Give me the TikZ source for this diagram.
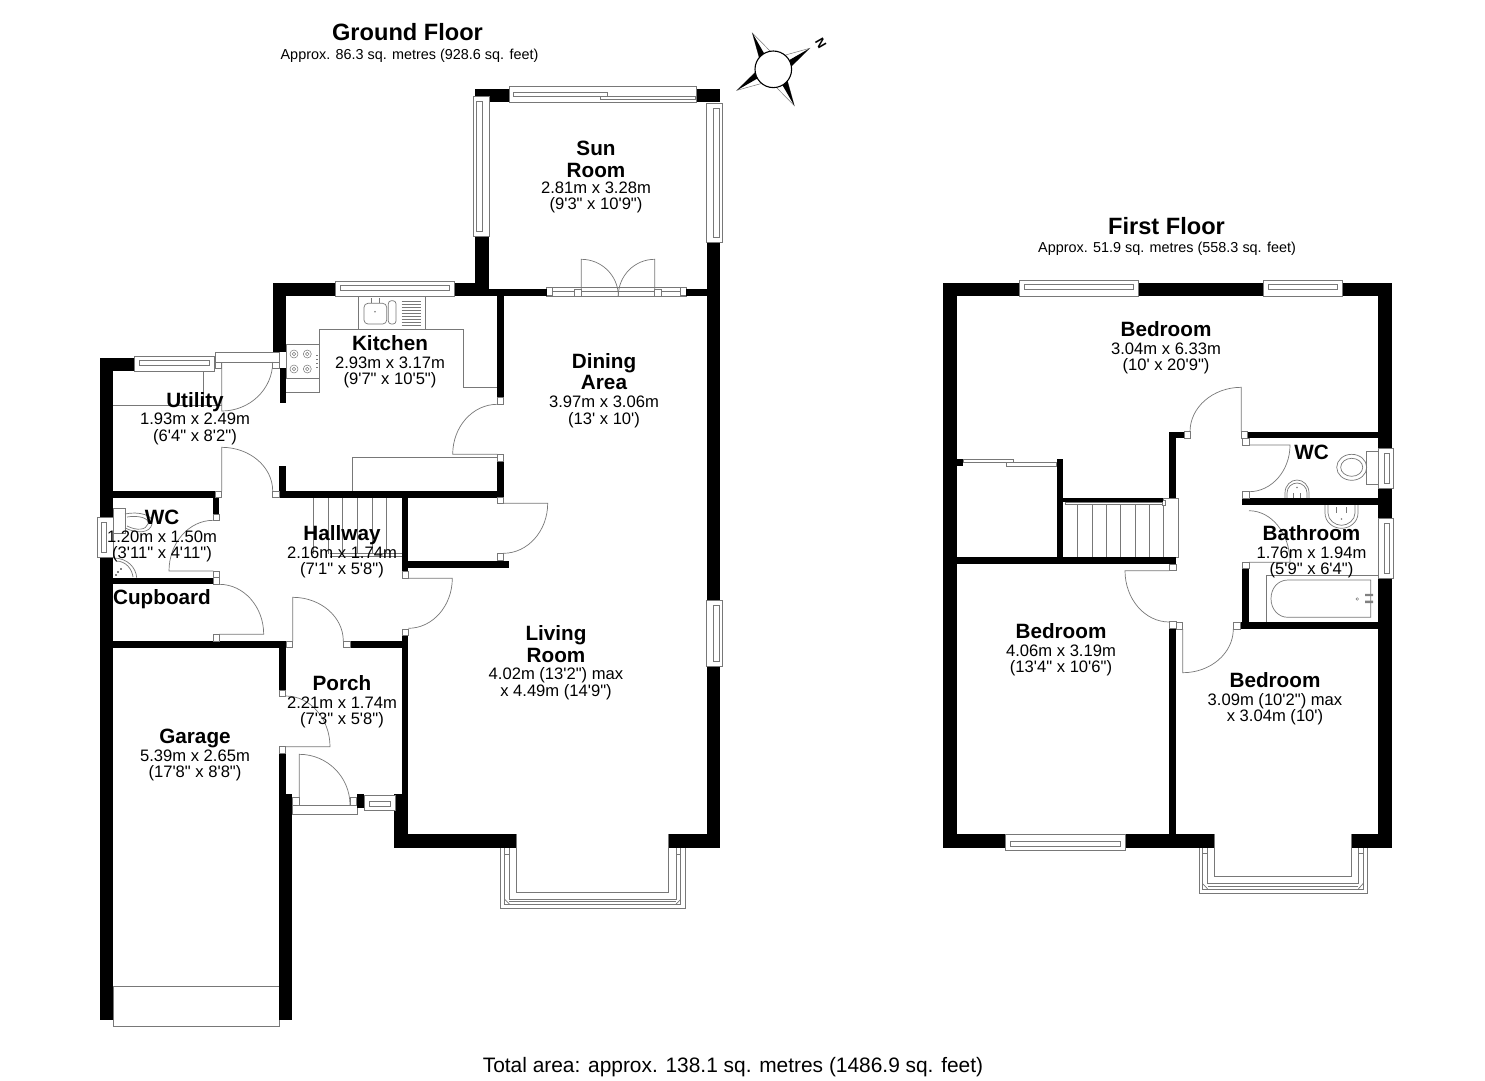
\documentclass[tikz,border=0pt]{standalone}
\usepackage{fontspec}
\newfontfamily\lsans{Liberation Sans}
\definecolor{planline}{HTML}{787878}
\tikzset{
  plan/.style={draw=planline,line width=0.7pt},
  planw/.style={draw=planline,line width=0.7pt,fill=white},
  wallfill/.style={fill=black},
  roomlabel/.style={font=\lsans\fontsize{16.6}{16.7}\selectfont,align=center,inner sep=0pt,text=black},
  titlelabel/.style={font=\lsans\bfseries\fontsize{23.6}{26}\selectfont,inner sep=0pt,text=black},
  sublabel/.style={font=\lsans\fontsize{14.4}{16}\selectfont,inner sep=0pt,text=black},
  totallabel/.style={font=\lsans\fontsize{20.9}{22}\selectfont,inner sep=0pt,text=black}
}
\newcommand{\wl}[4]{\fill[wallfill] (#1,#2) rectangle (#3,#4);}
\newcommand{\jb}[4]{\draw[planw] (#1,#2) rectangle (#3,#4);}
\newcommand{\pln}[4]{\draw[plan] (#1,#2) -- (#3,#4);}
% door: hinge, open leaf end, arc end
\newcommand{\door}[6]{%
  \pgfmathsetmacro\cax{#3+0.5523*(#5-#1)}\pgfmathsetmacro\cay{#4+0.5523*(#6-#2)}%
  \pgfmathsetmacro\cbx{#5+0.5523*(#3-#1)}\pgfmathsetmacro\cby{#6+0.5523*(#4-#2)}%
  \draw[plan] (#1,#2) -- (#3,#4) .. controls (\cax,\cay) and (\cbx,\cby) .. (#5,#6);}
% horizontal window: x1 x2 ytop ybot ; inner band y1 y2
\newcommand{\hwin}[6]{\draw[planw] (#1,#3) rectangle (#2,#4);
  \draw[plan] (#1+5,#5) rectangle (#2-5,#6);}
\newcommand{\vwin}[6]{\draw[planw] (#3,#1) rectangle (#4,#2);
  \draw[plan] (#5,#1+5) rectangle (#6,#2-5);}
\newcommand{\nm}[1]{{\bfseries\fontsize{20.7}{21}\selectfont #1}}
\newcommand{\dm}[1]{{\fontsize{16.6}{16.7}\selectfont #1}}
\newcommand{\needle}[2]{%
  \begin{scope}[rotate=#1]
    \draw[planline,line width=0.5pt,fill=white] (42,0) -- (16.8,6.5) -- (16.8,-6.5) -- cycle;
    \fill[black] (42,0) -- (16.8,#2*6.5) -- (18,0) -- cycle;
  \end{scope}}
\begin{document}
\begin{tikzpicture}[x=1pt,y=-1pt]
\useasboundingbox (0,0) rectangle (1485,1080);
\fill[white] (0,0) rectangle (1485,1080);

%%% GROUND FLOOR fixtures
% kitchen
\draw[plan] (358.7,296) -- (358.7,329.3) (425.3,296) -- (425.3,329.3);
\draw[plan] (319.3,392.7) -- (319.3,329.3) -- (463.3,329.3) -- (463.3,387.7) -- (497.3,387.7);
\draw[plan] (286,392.7) -- (319.3,392.7);
\draw[plan] (286,344.3) rectangle (319.3,378.3);
\foreach \cx/\cy in {294/354,307.3/354,294/369,307.3/369}{
  \draw[plan,line width=0.5pt] (\cx,\cy) circle (4);
  \draw[plan,line width=0.5pt] (\cx,\cy) circle (1.8);}
\foreach \cy in {355,359,363,367}{\draw[plan,line width=0.5pt] (316,\cy) -- (318,\cy);}
\draw[plan,rounded corners=4pt] (364,303.3) rectangle (386.7,324);
\draw[plan,rounded corners=3pt] (388.3,300.7) rectangle (396,324);
\foreach \cy in {301.7,304.6,...,326}{\draw[plan,line width=0.5pt] (401.7,\cy) -- (420.7,\cy);}
\draw[plan,line width=0.6pt] (371.7,298) -- (371.7,303) (379.3,298) -- (379.3,303);
\fill[planline] (375,311.7) circle (0.8);
% utility units
\pln{113.3}{405}{221.7}{405}
\pln{203.3}{371}{203.3}{405}
% hall cupboard
\draw[plan] (352.3,491) -- (352.3,457.3) -- (497.3,457.3);
% ground stairs
\foreach \sx in {313.3,328,342.7,357.3,372.3,386.7}{\pln{\sx}{497.7}{\sx}{554.3}}
\draw[plan] (330,553) -- (402,553) (330,556) -- (402,556);
% WC
\draw[plan] (113.3,508.7) rectangle (125,533.3);
\draw[plan] (125,514) .. controls (138,511) and (155,515) .. (152,524) .. controls (150,533) and (138,534) .. (125,528);
\draw[plan] (127,517) .. controls (138,515) and (150,518) .. (148,524) .. controls (146,530) and (137,531) .. (127,526);
\draw[plan] (113.3,558) .. controls (128,558) and (136,568) .. (136.7,577.7);
\draw[plan] (116,561) .. controls (126,561) and (132,569) .. (133,577);
\fill[black] (118,572) circle (0.9) (121,569) circle (0.9) (116,575) circle (0.9);
% garage door
\draw[plan] (113.3,986.7) rectangle (279,1026.7);
% living bay
\draw[plan] (500.3,847.7) -- (500.3,908) -- (685,908) -- (685,847.7);
\draw[plan] (516,834.3) -- (516,892.7) -- (668.7,892.7) -- (668.7,834.3);
\draw[plan] (504.7,847.7) -- (504.7,904) -- (680.7,904) -- (680.7,847.7);
\draw[plan] (509.3,847.7) -- (509.3,899.3) -- (676,899.3) -- (676,847.7);
\draw[plan] (504.7,854) -- (509.3,854) (676,854) -- (680.7,854);
\draw[plan] (504.7,899.3) -- (509.3,904) (676,904) -- (680.7,899.3);
\draw[plan] (509.3,901.7) -- (676,901.7);

% sun room double door frame
\draw[planw] (546.7,287.3) rectangle (686,296);
\draw[plan] (546.7,291) -- (574.7,291) (661.3,291) -- (686,291) (581.3,291.5) -- (654.7,291.5);
\jb{546.7}{287.3}{552.7}{295}\jb{680.7}{287.3}{686}{295}
% door frames
\jb{215}{352}{279}{362}
\jb{292.7}{805}{357.3}{814}

%%% GROUND FLOOR walls
\wl{100}{358}{113.3}{517.3}
\wl{100}{557.7}{113.3}{1020}
\wl{100}{358}{134}{371}
\wl{273}{283}{286}{352}
\wl{279.5}{368}{286}{403}
\wl{273}{283}{335}{296}
\wl{454}{283}{476}{296}
\wl{475.3}{236}{488.7}{296}
\wl{475.3}{89}{488.7}{96.7}
\wl{488.7}{89}{509.3}{102.3}
\wl{696}{89}{720}{102.3}
\wl{706.7}{242.7}{720}{600}
\wl{706.7}{666.7}{720}{847.7}
\wl{488}{289.3}{546.7}{296}
\wl{686}{289.3}{707}{296}
\wl{497}{296}{503.5}{397}
\wl{497}{461}{503.5}{497.7}
\wl{279}{491}{503.5}{497.7}
\wl{279}{465.7}{285.7}{491}
\wl{113}{491}{215}{497.7}
\wl{213.3}{497.7}{219.3}{514.3}
\wl{113}{577.7}{213}{584.3}
\wl{113}{641}{285.7}{647.7}
\wl{279}{647.7}{285.7}{690}
\wl{279}{753.3}{285.7}{794.3}
\wl{279}{794.3}{292.3}{1020}
\wl{350}{641}{408.3}{647.7}
\wl{402}{497.7}{408.3}{571.7}
\wl{402}{561}{509}{567.5}
\wl{402}{635.7}{408.3}{795}
\wl{394.3}{794.3}{408}{847.7}
\wl{394.3}{834.3}{516}{847.7}
\wl{668.7}{834.3}{720}{847.7}
\wl{357.3}{794.3}{364}{808.3}

% windows
\hwin{134}{214}{356}{371}{360}{365}
\hwin{335}{454.3}{281}{296}{285}{290}
\draw[planw] (509.3,86.7) rectangle (696,102.3);
\draw[plan] (513,92.7) rectangle (607,96);
\draw[plan] (600,96) rectangle (695,99.3);
\vwin{96.7}{236}{473}{489}{476.7}{482}
\vwin{103}{242.7}{706.7}{722.7}{713.3}{719}
\vwin{600}{666.7}{706.7}{722.7}{713.3}{719}
\vwin{517.3}{557.7}{97.7}{113.3}{101.5}{106.5}
\hwin{364}{395}{795}{810}{801}{806}

%%% GROUND FLOOR doors
\door{221.7}{362}{221.7}{411}{272.7}{362}
\jb{215}{362}{221.7}{368.3}\jb{272.7}{362}{279}{368.3}
\door{221.7}{491}{221.7}{447.3}{272.7}{491}
\jb{215}{491}{221.7}{497.7}\jb{272.7}{491}{279}{497.7}
\door{213.3}{571}{169}{571}{213.3}{520.3}
\jb{213.3}{514.3}{219.3}{520.3}\jb{213.3}{571}{219.3}{577.7}
\door{219.3}{634.3}{263.7}{634.3}{219.3}{584.3}
\jb{213.3}{577.7}{219.3}{584.3}\jb{213.3}{634.3}{219.3}{641}
\door{292.7}{641}{292.7}{597.3}{343.3}{641}
\jb{286}{641}{292.3}{647.7}\jb{343.3}{641}{350}{647.7}
\door{408.3}{578.3}{452.3}{578.3}{408.3}{628.3}
\jb{402}{571.7}{408.3}{578.3}\jb{402}{629}{408.3}{635.7}
\door{503.3}{503.3}{547.7}{503.3}{503.3}{553.3}
\jb{497}{497.7}{503.3}{503.3}\jb{497}{553.3}{503.3}{560}
\door{497.3}{454.3}{452.7}{454.3}{497.3}{404.3}
\jb{497.3}{397.3}{503.5}{404}\jb{497.3}{454.3}{503.5}{461}
\door{285.7}{746.7}{330}{746.7}{285.7}{696}
\jb{279}{690}{285.7}{696}\jb{279}{746.7}{285.7}{753.3}
\door{299.3}{805}{299.3}{754.3}{350}{805}
\jb{292.7}{797.7}{299.3}{805}\jb{350}{797.7}{356.7}{805}
\door{581.3}{296}{581.3}{259.3}{618.3}{296}
\door{654.7}{296}{654.7}{259.3}{618.3}{296}
\jb{574.7}{289.3}{581.3}{296}\jb{654.7}{289.3}{661.3}{296}

%%% FIRST FLOOR fixtures
% stairs
\draw[planw] (1163.3,498.3) rectangle (1178,557.3);
\foreach \sx in {1077.7,1092,1106.3,1120.7,1135,1149.3}{\pln{\sx}{504}{\sx}{557.3}}
\draw[plan] (1065,502) rectangle (1163.3,504.3);
\jb{1162}{500.5}{1165.5}{505}
% wardrobe
\draw[planw] (963.3,459) rectangle (1013.3,462.7);
\draw[planw] (1006.7,462.7) rectangle (1056.7,466.7);
% WC
\draw[plan] (1366,451.3) rectangle (1378.3,484.7);
\draw[plan] (1351.7,467.3) ellipse (15 and 13);
\draw[plan] (1351.7,467.3) ellipse (11 and 9);
\draw[plan] (1285,498.3) -- (1285,493) .. controls (1285,485) and (1291,480) .. (1297,480) .. controls (1303,480) and (1309,485) .. (1309,493) -- (1309,498.3);
\draw[plan] (1287,498) -- (1287,493) .. controls (1287,487) and (1292,483) .. (1297,483) .. controls (1302,483) and (1307,487) .. (1307,493) -- (1307,498);
\draw[plan,line width=1pt] (1293.5,493) -- (1293.5,498) (1300,493) -- (1300,498);
\fill[planline] (1297,487.5) circle (0.8);
% bathroom basin
\draw[plan] (1325,505) -- (1325,513) .. controls (1325,522) and (1333,528.3) .. (1341.5,528.3) .. controls (1350,528.3) and (1358,522) .. (1358,513) -- (1358,505);
\draw[plan] (1328,505) -- (1328,513) .. controls (1328,520) and (1335,525.3) .. (1341.5,525.3) .. controls (1348,525.3) and (1355,520) .. (1355,513) -- (1355,505);
\draw[plan,line width=1pt] (1336.5,507) -- (1336.5,513) (1346,507) -- (1346,513);
\fill[planline] (1341.5,519) circle (0.8);
% bath
\draw[plan] (1266.7,621.7) -- (1266.7,575.7) -- (1378.3,575.7);
\draw[plan] (1370.7,580) -- (1288,580) .. controls (1278,580) and (1271,588) .. (1271,598.7) .. controls (1271,609) and (1278,617.3) .. (1288,617.3) -- (1370.7,617.3) -- cycle;
\fill[gray] (1365,593.8) rectangle (1373,596.2) (1365,600.6) rectangle (1373,603);
\draw[plan,line width=0.5pt] (1357.3,599) circle (1.3);
% bay
\draw[plan] (1199,848.3) -- (1199,893.3) -- (1367.3,893.3) -- (1367.3,848.3);
\draw[plan] (1214.3,834.3) -- (1214.3,876.7) -- (1351.7,876.7) -- (1351.7,834.3);
\draw[plan] (1202.3,848.3) -- (1202.3,889) -- (1363.3,889) -- (1363.3,848.3);
\draw[plan] (1207.7,848.3) -- (1207.7,883.3) -- (1358.3,883.3) -- (1358.3,848.3);
\draw[plan] (1202.3,853.5) -- (1207.7,853.5) (1358.3,853.5) -- (1363.3,853.5);
\draw[plan] (1207.7,886.5) -- (1358.3,886.5);
\draw[plan] (1202.3,883.3) -- (1207.7,889) (1358.3,889) -- (1363.3,883.3);

%%% FIRST FLOOR walls
\wl{943.3}{282.7}{956.7}{848.3}
\wl{943.3}{282.7}{1019.3}{296}
\wl{1138.7}{282.7}{1263}{296}
\wl{1342}{282.7}{1391.7}{296}
\wl{1378.3}{282.7}{1391.7}{448.3}
\wl{1378.3}{488.3}{1391.7}{518.3}
\wl{1378.3}{578.3}{1391.7}{848.3}
\wl{943.3}{834.3}{1005.7}{848.3}
\wl{1125.7}{834.3}{1214.3}{848.3}
\wl{1351.7}{834.3}{1391.7}{848.3}
\wl{1169.3}{628.3}{1176}{834.3}
\wl{1240}{622.3}{1378.3}{629}
\wl{1242.3}{568.3}{1249}{622.3}
\wl{1242.3}{498.3}{1378.3}{505}
\wl{1247.3}{431.7}{1378.3}{438.3}
\wl{1169.3}{431.7}{1184}{438.3}
\wl{1169.3}{431.7}{1176}{498.3}
\wl{1056.7}{459}{1063.3}{557.3}
\wl{1063.3}{498.3}{1163.3}{501.7}
\wl{956.7}{557.3}{1176}{564.3}
\wl{956.7}{459}{963.3}{465.7}

% windows
\hwin{1019.3}{1138.7}{280}{296}{284}{289}
\hwin{1263}{1342}{280}{296}{284}{289}
\hwin{1005.7}{1125.7}{834.3}{850.3}{841}{846}
\vwin{448.3}{488.3}{1378.3}{1393.3}{1384}{1389}
\vwin{518.3}{578.3}{1378.3}{1393.3}{1384}{1389}

%%% FIRST FLOOR doors
\door{1241.3}{431.7}{1241.3}{387.3}{1190}{431.7}
\jb{1184}{431.7}{1190}{438.3}\jb{1241.3}{431.7}{1247.3}{438.3}
\door{1249}{445}{1290}{445}{1249}{491.7}
\jb{1242.3}{438.3}{1249}{445}\jb{1242.3}{491.7}{1249}{498.3}
\door{1249}{562.3}{1290}{562.3}{1249}{510.7}
\jb{1242.3}{562.3}{1249}{568.3}
\door{1169.3}{570.7}{1125}{570.7}{1169.3}{622}
\jb{1169.3}{564.3}{1176}{570.7}\jb{1169.3}{621.7}{1176}{628.3}
\door{1182.7}{629}{1182.7}{672.7}{1233.3}{629}
\jb{1176}{622.3}{1182.7}{629}\jb{1233.3}{622.3}{1240}{629}

%%% Compass
\begin{scope}[shift={(773.3,69.3)}]
  \needle{30}{1}
  \needle{120}{-1}
  \needle{-60}{-1}
  \needle{210}{1}
  \node[font=\lsans\bfseries\fontsize{13}{14}\selectfont,rotate=-60,inner sep=0pt] (compassN) at (47.5,-26) {N};
  \draw[black,line width=1.1pt,fill=white] (0,0) circle (18.3);
\end{scope}

%%% Labels
\node[titlelabel] (gftitle) at (407.5,32) {Ground Floor};
\node[sublabel] (gfsub) at (409.5,56) {Approx. 86.3 sq. metres (928.6 sq. feet)};
\node[titlelabel] (fftitle) at (1166.5,226) {First Floor};
\node[sublabel] (ffsub) at (1167,249) {Approx. 51.9 sq. metres (558.3 sq. feet)};
\node[totallabel] (total) at (733,1067) {Total area: approx. 138.1 sq. metres (1486.9 sq. feet)};

\node[roomlabel] (sun) at (596,177) {\nm{Sun}\\[5.8pt]\nm{Room}\\[-1.2pt]\dm{2.81m x 3.28m}\\\dm{(9'3" x 10'9")}};
\node[roomlabel] (kitchen) at (390,362) {\nm{Kitchen}\\[1pt]\dm{2.93m x 3.17m}\\\dm{(9'7" x 10'5")}};
\node[roomlabel] (utility) at (195,418.5) {\nm{Utility}\\[1pt]\dm{1.93m x 2.49m}\\\dm{(6'4" x 8'2")}};
\node[roomlabel] (dining) at (604,391) {\nm{Dining}\\[0.8pt]\nm{Area}\\[1.8pt]\dm{3.97m x 3.06m}\\\dm{(13' x 10')}};
\node[roomlabel] (wc) at (162,536) {\nm{WC}\\[1pt]\dm{1.20m x 1.50m}\\\dm{(3'11" x 4'11")}};
\node[roomlabel] (hallway) at (342,552) {\nm{Hallway}\\[1pt]\dm{2.16m x 1.74m}\\\dm{(7'1" x 5'8")}};
\node[roomlabel] (cupboard) at (162,599) {\nm{Cupboard}};
\node[roomlabel] (living) at (556,663) {\nm{Living}\\[1.8pt]\nm{Room}\\[0.8pt]\dm{4.02m (13'2") max}\\\dm{x 4.49m (14'9")}};
\node[roomlabel] (porch) at (342,702) {\nm{Porch}\\[1pt]\dm{2.21m x 1.74m}\\\dm{(7'3" x 5'8")}};
\node[roomlabel] (garage) at (195,755) {\nm{Garage}\\[1pt]\dm{5.39m x 2.65m}\\\dm{(17'8" x 8'8")}};
\node[roomlabel] (bed1) at (1166,348) {\nm{Bedroom}\\[1pt]\dm{3.04m x 6.33m}\\\dm{(10' x 20'9")}};
\node[roomlabel] (wc2) at (1311.5,452) {\nm{WC}};
\node[roomlabel] (bath) at (1311.5,552) {\nm{Bathroom}\\[1pt]\dm{1.76m x 1.94m}\\\dm{(5'9" x 6'4")}};
\node[roomlabel] (bed2) at (1061,650) {\nm{Bedroom}\\[1pt]\dm{4.06m x 3.19m}\\\dm{(13'4" x 10'6")}};
\node[roomlabel] (bed3) at (1275,699) {\nm{Bedroom}\\[1pt]\dm{3.09m (10'2") max}\\\dm{x 3.04m (10')}};
\end{tikzpicture}
\end{document}
